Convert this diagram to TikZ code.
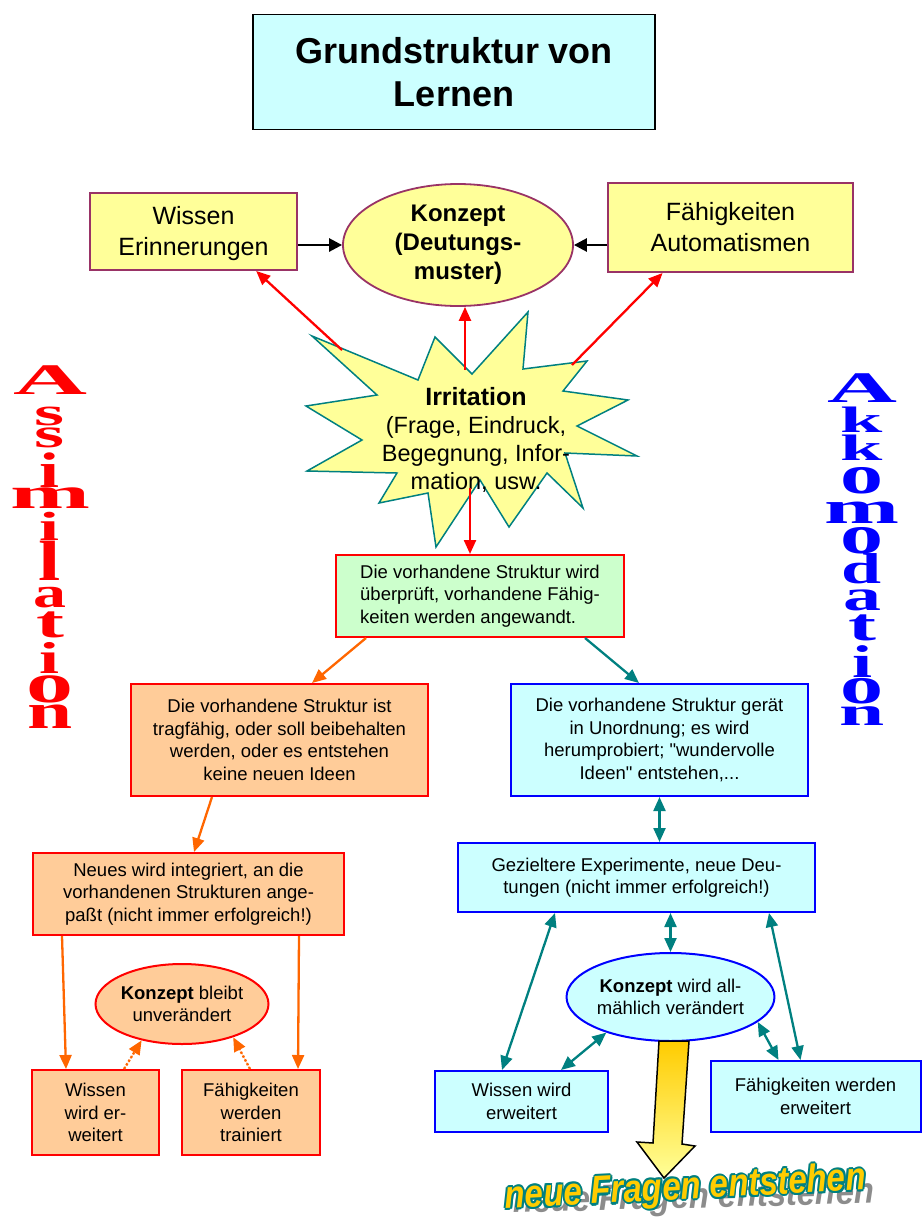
\documentclass[tikz,border=0pt]{standalone}
\usepackage{fontspec}
\usepackage{graphicx}
\setmainfont{Liberation Sans}
\newfontfamily\qfont{Liberation Sans}
\newfontfamily\serifL{Liberation Serif}
\usetikzlibrary{arrows.meta,calc,shapes.geometric}
\definecolor{cyanfill}{HTML}{CCFFFF}
\definecolor{yellowfill}{HTML}{FFFF99}
\definecolor{purpleb}{HTML}{993366}
\definecolor{greenfill}{HTML}{CCFFCC}
\definecolor{orangefill}{HTML}{FFCC99}
\definecolor{orangec}{HTML}{FF6600}
\definecolor{tealc}{HTML}{008080}
\definecolor{bluec}{HTML}{0000FF}
\definecolor{redc}{HTML}{FF0000}
\definecolor{arrowtop}{HTML}{FFCC00}
\definecolor{arrowbot}{HTML}{FFFF99}
\definecolor{wordyel}{HTML}{FFCC00}
\newcommand\fsmall{\fontsize{18.5}{22.5}\selectfont}
\newcommand\nfe{neue Fragen entstehen}
\newcommand\olc[2]{\rlap{\hskip#1\raisebox{#2}{\nfe}}}
\newcommand\sq{{\qfont\symbol{34}}}
\begin{document}
\begin{tikzpicture}[x=1pt,y=-1pt,
  box/.style={draw, rectangle, line width=2pt, inner sep=0pt, align=center, font=\fsmall},
  obox/.style={box, fill=orangefill, draw=redc},
  bbox/.style={box, fill=cyanfill, draw=bluec},
  tip/.style={-{Triangle[length=14pt,width=12pt]}},
  dtip/.style={{Triangle[length=14pt,width=12pt]}-{Triangle[length=14pt,width=12pt]}},
  redarr/.style={tip, draw=redc, fill=redc, line width=2.3pt},
  orarr/.style={tip, draw=orangec, fill=orangec, line width=2.3pt},
  tearr/.style={dtip, draw=tealc, fill=tealc, line width=2.3pt},
  vlet/.style={anchor=base, inner sep=0pt, font=\serifL\bfseries\fontsize{40}{40}\selectfont}]
\useasboundingbox (0,0) rectangle (922,1218);

% title
\node[box, fill=cyanfill, draw=black, line width=1.8pt, minimum width=402pt, minimum height=115pt,
  font=\fontsize{36}{43}\selectfont\bfseries] (title) at (454,72) {Grundstruktur von\\Lernen};

% top row
\node[box, fill=yellowfill, draw=purpleb, minimum width=207pt, minimum height=77pt,
  font=\fontsize{25}{31}\selectfont, text depth=2pt] (wissen) at (193.5,231.5) {Wissen\\Erinnerungen};
\node[ellipse, draw=purpleb, fill=yellowfill, line width=1.8pt, minimum width=230pt, minimum height=122pt,
  inner sep=0pt, align=center, font=\fontsize{24}{29}\selectfont\bfseries] (konzept) at (458,245) {Konzept\\(Deutungs-\\muster)};
\node[box, fill=yellowfill, draw=purpleb, minimum width=245pt, minimum height=89pt,
  font=\fontsize{25}{31}\selectfont] (faeh) at (730.5,227.5) {Fähigkeiten\\Automatismen};

\draw[-{Triangle[length=13pt,width=13pt]}, line width=2.6pt] (wissen.east |- konzept.west) -- (konzept.west);
\draw[-{Triangle[length=13pt,width=13pt]}, line width=2.6pt] (faeh.west |- konzept.east) -- (konzept.east);

% starburst
\draw[fill=yellowfill, draw=tealc, line width=1.5pt]
  (312,336) -- (418,380) -- (435,337) -- (472,374) -- (528,312) -- (523,369) -- (587,361)
  -- (563,391) -- (628,400) -- (577,426) -- (637,456) -- (565,453) -- (583,508) -- (547,473)
  -- (509,527) -- (480,480) -- (436,547) -- (428,493) -- (379,503) -- (397,473) -- (307,471)
  -- (362,440) -- (306,406) -- (377,395) -- cycle;
\coordinate (s1) at (342,350);
\coordinate (s2) at (465,370);
\coordinate (s3) at (572,365);
\coordinate (s4) at (470,488);
\node[align=center, inner sep=0pt, font=\fontsize{23.5}{28}\selectfont] (irr) at (476,440)
  {{\fontsize{25}{28}\selectfont\bfseries Irritation}\\(Frage, Eindruck,\\Begegnung, Infor-\\mation, usw.};

\draw[redarr] (s1) -- ($(wissen.south)!0.6!(wissen.south east)$);
\draw[redarr] (s2) -- (konzept.south -| s2);
\draw[redarr] (s3) -- ($(faeh.south west)!0.45!(faeh.south)$);

% green box
\node[box, fill=greenfill, draw=redc, align=left, minimum width=288pt, minimum height=82pt] (green) at (480,596)
  {Die vorhandene Struktur wird\\überprüft, vorhandene Fähig-\\keiten werden angewandt.};
\draw[redarr] (s4) -- (s4 |- green.north);

% second row
\node[obox, minimum width=297pt, minimum height=112pt] (ob1) at (279.5,740)
  {Die vorhandene Struktur ist\\tragfähig, oder soll beibehalten\\werden, oder es entstehen\\keine neuen Ideen};
\node[bbox, minimum width=297pt, minimum height=112pt] (bb1) at (659.5,740)
  {Die vorhandene Struktur gerät\\in Unordnung; es wird\\herumprobiert; \sq wundervolle\\Ideen\sq\ entstehen,...};
\draw[orarr] ([xshift=31pt]green.south west) -- ([xshift=182pt]ob1.north west);
\draw[tip, draw=tealc, fill=tealc, line width=2.3pt] ([xshift=-40pt]green.south east) -- ([xshift=129pt]bb1.north west);

% left branch
\node[obox, minimum width=311pt, minimum height=82pt] (neues) at (188.5,894)
  {Neues wird integriert, an die\\vorhandenen Strukturen ange-\\paßt (nicht immer erfolgreich!)};
\draw[orarr] ([xshift=82pt]ob1.south west) -- ([xshift=162pt]neues.north west);
\node[ellipse, draw=redc, fill=orangefill, line width=2pt, minimum width=162pt, minimum height=80pt,
  inner sep=0pt, align=center, font=\fsmall] (kbu) at (182,1004) {\textbf{Konzept} bleibt\\unverändert};
\node[obox, minimum width=127pt, minimum height=85pt] (wwe) at (95.5,1112.5) {Wissen\\wird er-\\weitert};
\node[obox, minimum width=138pt, minimum height=85pt] (fwt) at (251,1112.5) {Fähigkeiten\\werden\\trainiert};
\draw[orarr] ([xshift=30pt]neues.south west) -- ([xshift=35pt]wwe.north west);
\draw[orarr] ([xshift=-46pt]neues.south east) -- ([xshift=-23pt]fwt.north east);
\draw[orarr, dotted, line width=2.3pt] ([xshift=93pt]wwe.north west) -- (kbu.222);
\draw[orarr, dotted, line width=2.3pt] ([xshift=69pt]fwt.north west) -- (kbu.327);

% right branch
\node[bbox, minimum width=357pt, minimum height=69pt] (gez) at (636.5,877.5)
  {Gezieltere Experimente, neue Deu-\\tungen (nicht immer erfolgreich!)};
\draw[tearr] (bb1.south) -- (bb1.south |- gez.north);
\node[ellipse, draw=bluec, fill=cyanfill, line width=2pt, minimum width=195pt, minimum height=88pt,
  inner sep=0pt, align=center, font=\fsmall] (kwv) at (670.5,997) {\textbf{Konzept} wird all-\\mählich verändert};
\node[bbox, minimum width=173pt, minimum height=61pt] (wwe2) at (521.5,1101.5) {Wissen wird\\erweitert};
\node[bbox, minimum width=210pt, minimum height=71pt] (fwe2) at (815.5,1096.5) {Fähigkeiten werden\\erweitert};
\draw[tearr] ([xshift=98pt]gez.south west) -- ([xshift=68pt]wwe2.north west);
\draw[tearr] (kwv.north |- gez.south) -- (kwv.north);
\draw[tearr] ([xshift=-47pt]gez.south east) -- ([xshift=91pt]fwe2.north west);
\draw[tearr] (kwv.209) -- ([xshift=127pt]wwe2.north west);
\draw[tearr] (kwv.344) -- ([xshift=69pt]fwe2.north west);

% fat arrow
\draw[line width=1.5pt, top color=arrowtop, bottom color=arrowbot]
  (659,1041) -- (689,1041) -- (682,1144) -- (695,1146) -- (664,1178) -- (637,1142) -- (653,1143) -- cycle;

% word art
\node[rotate=1.5, anchor=base, inner sep=0pt, font=\fontsize{33}{33}\selectfont\bfseries\itshape, text=black!45] (nfes) at (694,1208)
  {\scalebox{1}[1.1]{\nfe}};
\node[rotate=3, anchor=base, inner sep=0pt, font=\fontsize{33}{33}\selectfont\bfseries\itshape] (nfem) at (686,1199)
  {\scalebox{1}[1.18]{\color{tealc}\olc{1.8pt}{0pt}\olc{-1.8pt}{0pt}\olc{0pt}{1.8pt}\olc{0pt}{-1.8pt}\olc{1.3pt}{1.3pt}\olc{-1.3pt}{1.3pt}\olc{1.3pt}{-1.3pt}\olc{-1.3pt}{-1.3pt}\color{wordyel}\nfe}};

% vertical words
\foreach \i/\y/\xs/\ys/\l in {1/394/2.56/1.09/A, 2/425/1.93/0.98/s, 3/447/1.93/1.04/s, 4/487/1.8/1.25/i,
  5/508/2.4/1.1/m, 6/540/1.8/1.02/i, 7/580/2.0/1.42/l, 8/607/1.65/1.08/a, 9/637/2.1/1.14/t,
  10/673/1.8/1.12/i, 11/702/2.35/1.42/o, 12/728/2.03/1.25/n}
  \node[vlet, text=redc] (as\i) at (50,\y) {\scalebox{\xs}[\ys]{\l}};
\foreach \i/\y/\xs/\ys/\l in {1/402/2.42/1.09/A, 2/432/1.9/0.92/k, 3/460/1.9/0.92/k, 4/493/2.15/1.38/o,
  5/523/2.25/1.14/m, 6/553/2.15/1.38/o, 7/583/1.8/1.08/d, 8/610/1.9/1.1/a, 9/640/2.1/1.14/t,
  10/677/1.8/1.15/i, 11/703/2.15/1.33/o, 12/725/2.03/1.0/n}
  \node[vlet, text=bluec] (ak\i) at (862,\y) {\scalebox{\xs}[\ys]{\l}};
\end{tikzpicture}
\end{document}
